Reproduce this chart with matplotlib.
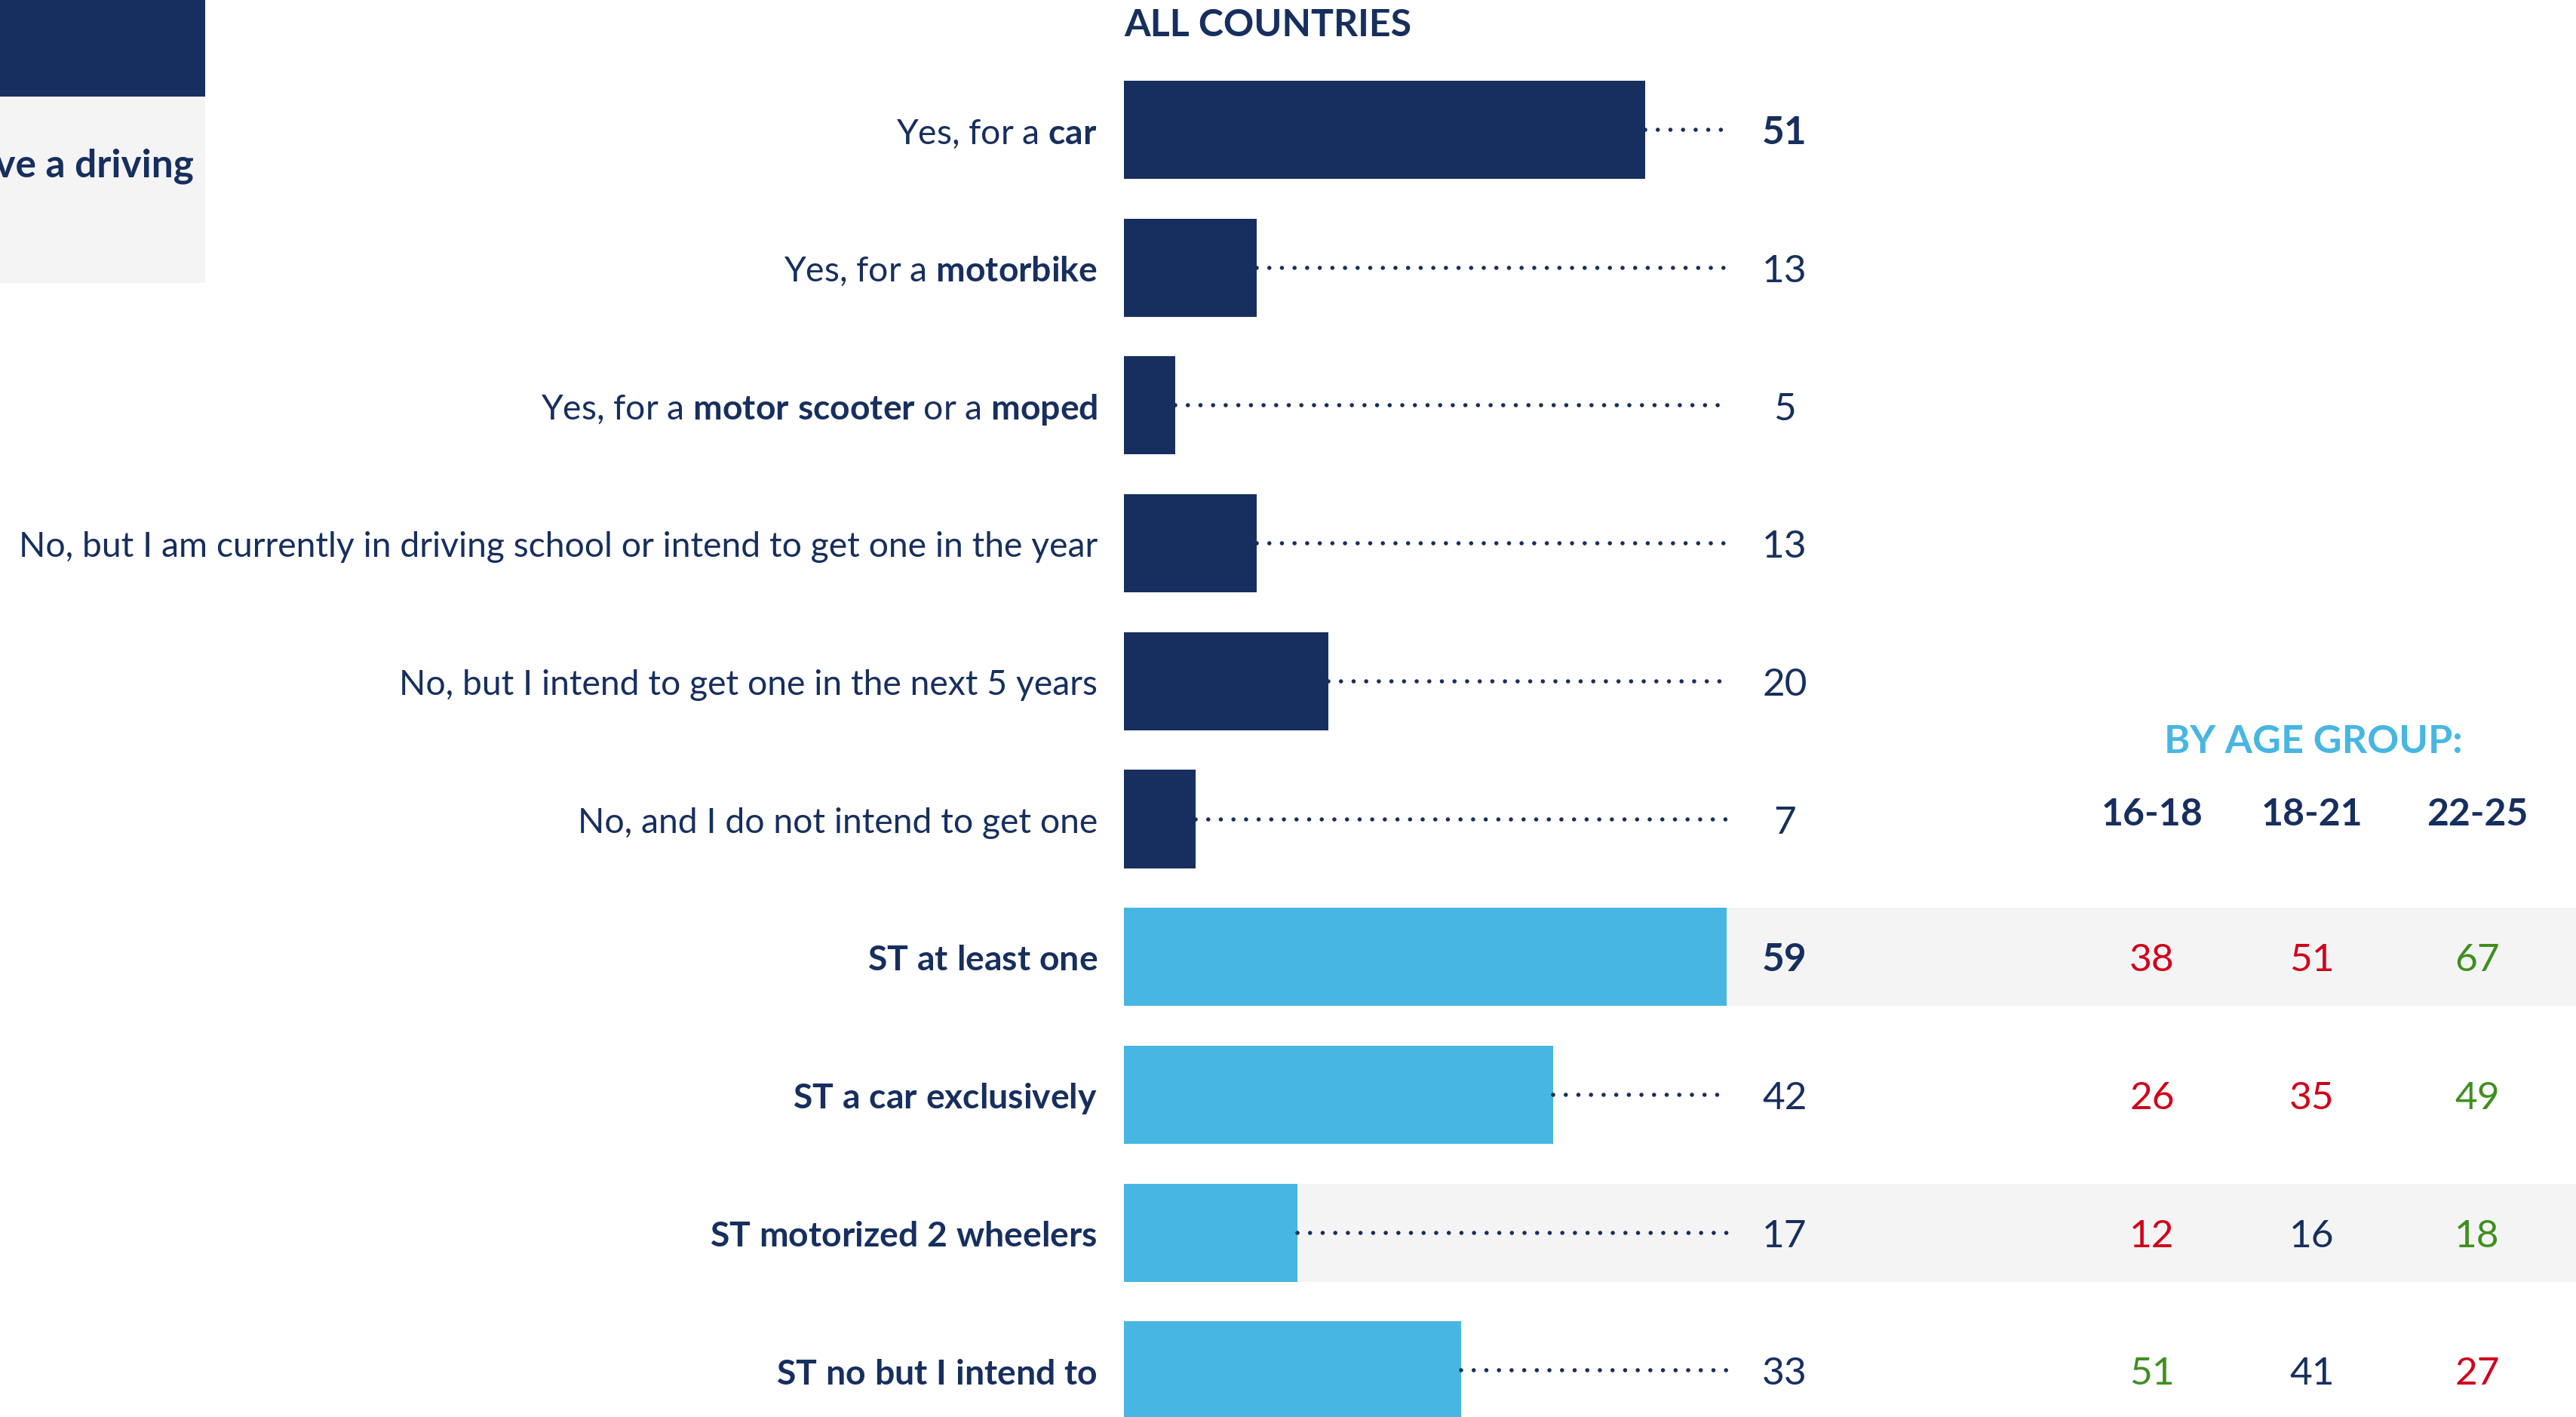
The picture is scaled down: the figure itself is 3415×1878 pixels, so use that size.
import matplotlib
matplotlib.use('Agg')
import matplotlib.pyplot as plt
from matplotlib.patches import Rectangle

plt.rcParams['font.family'] = ['Lato', 'DejaVu Sans']
plt.rcParams['mathtext.fontset'] = 'custom'
plt.rcParams['mathtext.rm'] = 'Lato'
plt.rcParams['mathtext.bf'] = 'Lato:bold'
plt.rcParams['mathtext.it'] = 'Lato:italic'

NAVY = '#172F5E'
BLUE = '#48B6E2'
RED = '#D0021B'
GREEN = '#3F8F1F'
GRAY = '#F4F4F4'

# ---------------- data ----------------
labels = [
    r'Yes, for a $\mathbf{car}$',
    r'Yes, for a $\mathbf{motorbike}$',
    r'Yes, for a $\mathbf{motor\ scooter}$ or a $\mathbf{moped}$',
    'No, but I am currently in driving school or intend to get one in the year',
    'No, but I intend to get one in the next 5 years',
    'No, and I do not intend to get one',
    r'$\mathbf{ST\ at\ least\ one}$',
    r'$\mathbf{ST\ a\ car\ exclusively}$',
    r'$\mathbf{ST\ motorized\ 2\ wheelers}$',
    r'$\mathbf{ST\ no\ but\ I\ intend\ to}$',
]
values = [51, 13, 5, 13, 20, 7, 59, 42, 17, 33]
bar_kind = ['detail'] * 6 + ['summary'] * 4
bold_values = [True, False, False, False, False, False, True, False, False, False]
highlight_rows = [6, 8]

age_groups = ['16-18', '18-21', '22-25']
age_rows = [6, 7, 8, 9]
age_values = [[38, 51, 67],
              [26, 35, 49],
              [12, 16, 18],
              [51, 41, 27]]
age_signif = [['-', '-', '+'],
              ['-', '-', '+'],
              ['-', '=', '+'],
              ['+', '=', '-']]

title_text = 'ALL COUNTRIES'
age_title = 'BY AGE GROUP:'
question_text = 'Do you have a driving'

# ---------------- layout ----------------
W, H = 3415, 1878
fig = plt.figure(figsize=(W / 100, H / 100), dpi=100)
ax = fig.add_axes([0, 0, 1, 1])

vmax = max(values)
bar_x0_px, bar_xmax_px = 1490, 2289
upx = vmax / (bar_xmax_px - bar_x0_px)
row0_px, row_step_px = 172, 182.7
ax.set_xlim(-bar_x0_px * upx, (W - bar_x0_px) * upx)
ax.set_ylim((H - row0_px) / row_step_px, -row0_px / row_step_px)
ax.axis('off')

def px_to_x(px):
    return (px - bar_x0_px) * upx

def py_to_row(py):
    return (py - row0_px) / row_step_px

bar_h = 130 / row_step_px
n = len(values)
rows = list(range(n))

# gray highlight bands
xright = ax.get_xlim()[1]
ax.barh(highlight_rows, [xright] * len(highlight_rows), left=0, height=bar_h,
        color=GRAY, zorder=0)

# bars
colors = [NAVY if k == 'detail' else BLUE for k in bar_kind]
ax.barh(rows, values, height=bar_h, color=colors, zorder=2)

# dotted leaders
for i, v in zip(rows, values):
    if v < vmax:
        ax.plot([v, vmax], [i, i], color=NAVY, lw=4.0,
                ls=(0, (0.01, 3.0)), dash_capstyle='round', zorder=3)

# value labels
val_x = px_to_x(2366)
LABEL_FS = 33.3
for i, v, b in zip(rows, values, bold_values):
    ax.text(val_x, i + 0.105, str(v), ha='center', va='baseline',
            fontsize=37, color=NAVY, fontweight='bold' if b else 'normal')

# row labels
lab_x = px_to_x(1455)
for i, lab in zip(rows, labels):
    ax.text(lab_x, i + 0.1, lab, ha='right', va='baseline',
            fontsize=LABEL_FS, color=NAVY)

# title
ax.text(0, py_to_row(33), title_text, ha='left', va='center',
        fontsize=36, fontweight='bold', color=NAVY)

# age group table
col_x = [px_to_x(p) for p in (2853, 3065, 3284)]
ax.text(px_to_x(3067), py_to_row(984), age_title, ha='center', va='center',
        fontsize=37.5, fontweight='bold', color=BLUE)
for cx, g in zip(col_x, age_groups):
    ax.text(cx, py_to_row(1079), g, ha='center', va='center',
            fontsize=36, fontweight='bold', color=NAVY)
sig_color = {'-': RED, '+': GREEN, '=': NAVY}
for r, vals, sigs in zip(age_rows, age_values, age_signif):
    for cx, v, s in zip(col_x, vals, sigs):
        ax.text(cx, r + 0.105, str(v), ha='center', va='baseline',
                fontsize=37, color=sig_color[s])

# question box (cropped at left edge, as in the source)
fig.add_artist(Rectangle((0, 1 - 128 / H), 272 / W, 128 / H,
                         transform=fig.transFigure, color=NAVY, lw=0))
fig.add_artist(Rectangle((0, 1 - 375 / H), 272 / W, (375 - 128) / H,
                         transform=fig.transFigure, color=GRAY, lw=0))
fig.text(257 / W, 1 - 220 / H, question_text, ha='right', va='center',
         fontsize=37, fontweight='bold', color=NAVY)

fig.savefig('out.png', dpi=100)
